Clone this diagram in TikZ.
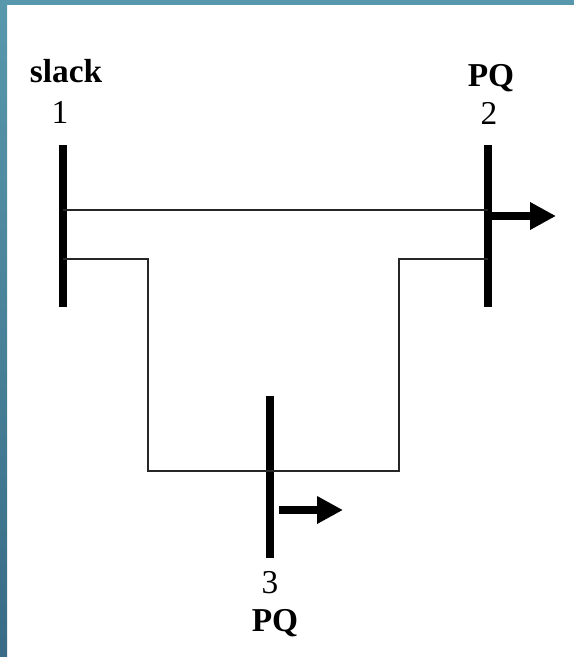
\documentclass[tikz,border=0pt]{standalone}
\usepackage{fontspec}
\setmainfont{Liberation Serif}
\usepackage{tikz}
\usetikzlibrary{arrows.meta,positioning,calc}
\definecolor{bandtop}{HTML}{5898AC}
\definecolor{bandbot}{HTML}{396B86}

\begin{document}
\begin{tikzpicture}[
  >=Stealth,
  bus/.style={draw=none, fill=black, minimum width=0.16cm, minimum height=3.24cm,
              inner sep=0pt},
  line/.style={draw=black!85, line width=0.04cm},
  load/.style={-{Triangle[length=0.52cm, width=0.52cm]}, line width=0.16cm},
  num/.style={font=\fontsize{19}{19}\selectfont, inner sep=0pt},
  kind/.style={font=\fontsize{19}{19}\selectfont\bfseries, inner sep=0pt}
]
  \def\xa{1.26} \def\xb{9.76} \def\xc{5.40}
  \useasboundingbox (0,0) rectangle (11.48,-13.14);
  % backdrop
  \fill[bandtop] (0,0) rectangle (11.48,-0.1);
  \shade[top color=bandtop, bottom color=bandbot] (0,0) rectangle (0.14,-13.14);
  % buses
  \node[bus] (bus1) at (\xa,-4.52) {};
  \node[bus] (bus2) at (\xb,-4.52) {};
  \node[bus] (bus3) at (\xc,-9.53) {};
  % labels
  \node[num] (num1) at (1.2,-2.24) {1};
  \node[kind] (kind1) at (1.32,-1.42) {slack};
  \node[num] (num2) at (9.78,-2.26) {2};
  \node[kind] (kind2) at (9.82,-1.57) {PQ};
  \node[num] (num3) at (5.4,-11.66) {3};
  \node[kind] (kind3) at (5.5,-12.46) {PQ};
  % tie points on the buses
  \coordinate (a1) at (\xa,-4.2);
  \coordinate (b1) at (\xb,-4.2);
  \coordinate (a2) at (\xa,-5.18);
  \coordinate (b2) at (\xb,-5.18);
  \coordinate (c1) at (\xc,-9.42);
  % lines
  \draw[line] (a1) -- (b1);
  \draw[line] (a2) -- (2.96,-5.18) -- (2.96,-9.42) -- (c1);
  \draw[line] (b2) -- (7.98,-5.18) -- (7.98,-9.42) -- (c1);
  % loads
  \coordinate (l2s) at (\xb,-4.32);
  \coordinate (l2e) at (11.12,-4.32);
  \coordinate (l3s) at (5.58,-10.2);
  \coordinate (l3e) at (6.86,-10.2);
  \draw[load] (l2s) -- (l2e);
  \draw[load] (l3s) -- (l3e);
\end{tikzpicture}
\end{document}
